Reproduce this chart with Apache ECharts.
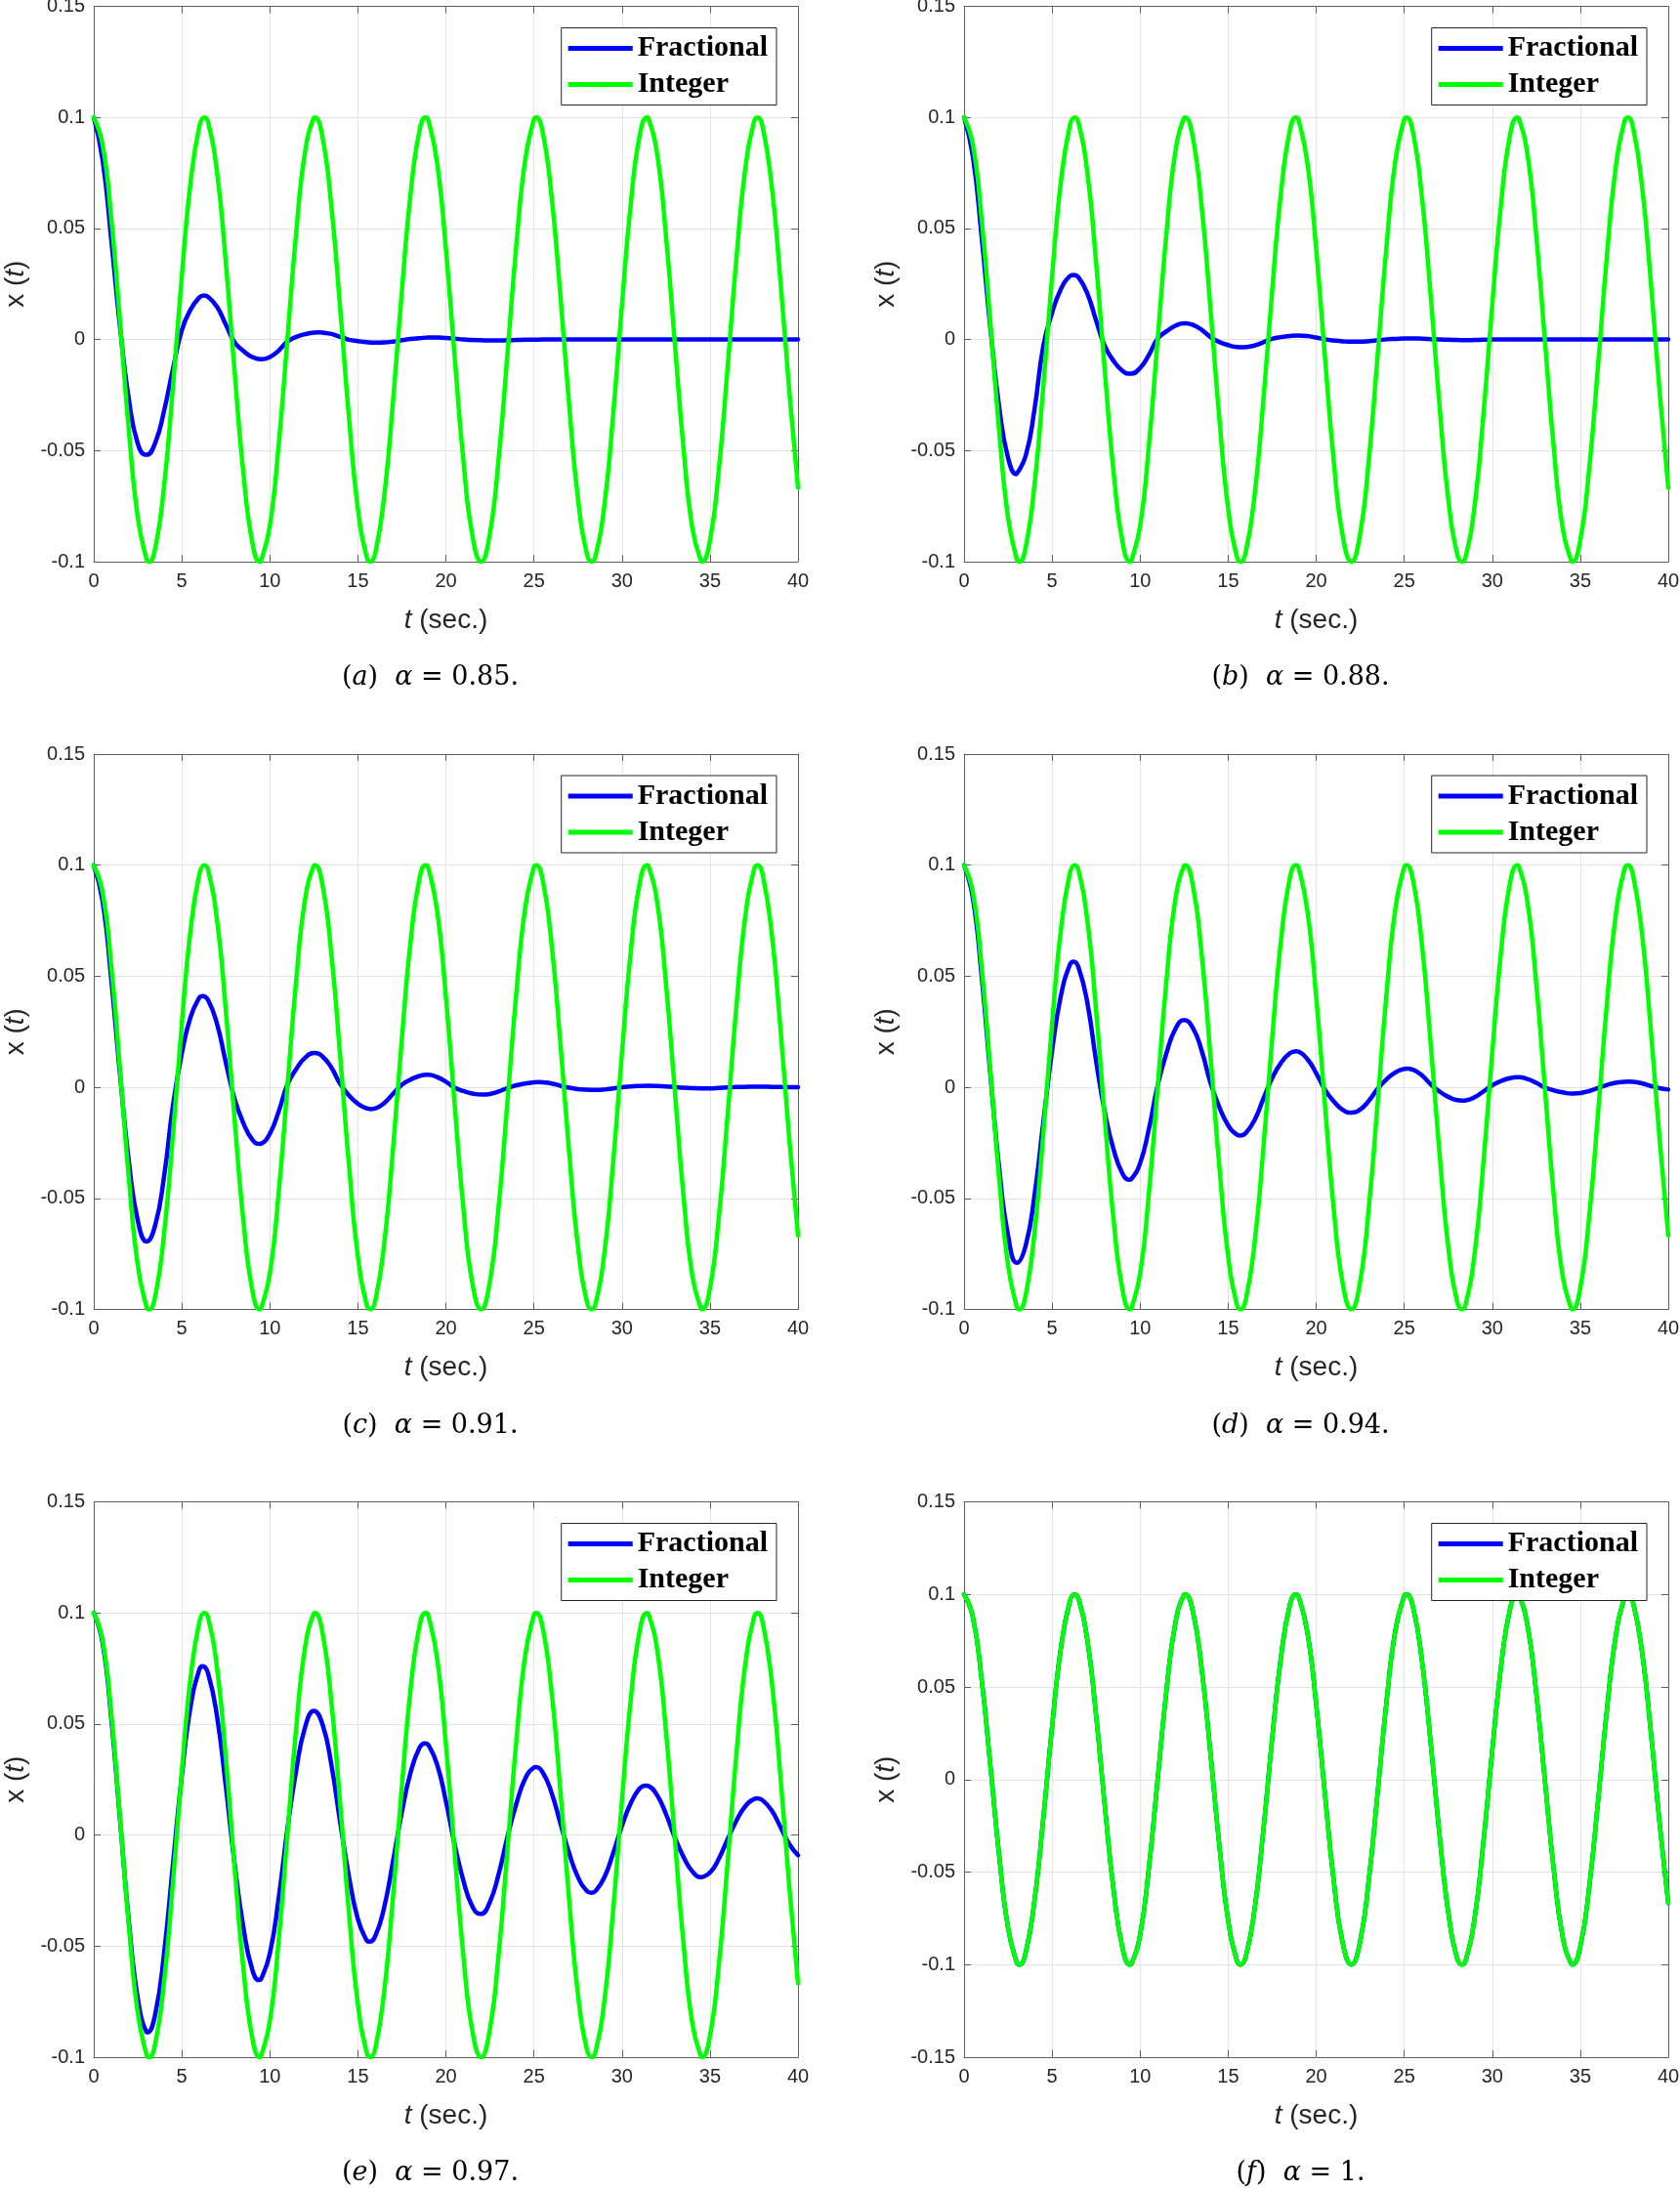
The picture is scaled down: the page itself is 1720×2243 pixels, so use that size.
<!DOCTYPE html>
<html>
<head>
<meta charset="utf-8">
<script src="https://cdn.jsdelivr.net/npm/echarts/dist/echarts.min.js"></script>
<style>
html,body{margin:0;padding:0;background:#ffffff;}
#chart{width:1720px;height:2243px;}
</style>
</head>
<body>
<div id="chart"></div>
<script>
// ---------------- data ----------------
const tSec = [0,0.5,1,1.5,2,2.5,3,3.5,4,4.5,5,5.5,6,6.5,7,7.5,8,8.5,9,9.5,
  10,10.5,11,11.5,12,12.5,13,13.5,14,14.5,15,15.5,16,16.5,17,17.5,18,18.5,19,19.5,
  20,20.5,21,21.5,22,22.5,23,23.5,24,24.5,25,25.5,26,26.5,27,27.5,28,28.5,29,29.5,
  30,30.5,31,31.5,32,32.5,33,33.5,34,34.5,35,35.5,36,36.5,37,37.5,38,38.5,39,39.5,40];

const integerX = [0.1000,0.0878,0.0540,0.0071,-0.0416,-0.0801,-0.0990,-0.0936,-0.0654,-0.0211,
  0.0284,0.0709,0.0960,0.0977,0.0754,0.0347,-0.0146,-0.0602,-0.0911,-0.0997,
  -0.0839,-0.0476,0.0004,0.0483,0.0844,0.0998,0.0907,0.0595,0.0137,-0.0355,
  -0.0760,-0.0979,-0.0958,-0.0702,-0.0275,0.0219,0.0660,0.0940,0.0989,0.0796,
  0.0408,-0.0080,-0.0548,-0.0880,-0.1000,-0.0873,-0.0533,-0.0062,0.0424,0.0806,
  0.0991,0.0933,0.0647,0.0202,-0.0292,-0.0715,-0.0963,-0.0975,-0.0748,-0.0338,
  0.0154,0.0609,0.0915,0.0997,0.0834,0.0468,-0.0013,-0.0491,-0.0849,-0.0998,
  -0.0904,-0.0588,-0.0128,0.0363,0.0765,0.0980,0.0955,0.0696,0.0267,-0.0228,
  -0.0667];
// turning points of the integer-order curve [t, x]
const integerPeaks = [[3.1416,-0.1],[6.2832,0.1],[9.4248,-0.1],[12.5664,0.1],[15.7080,-0.1],[18.8496,0.1],
  [21.9911,-0.1],[25.1327,0.1],[28.2743,-0.1],[31.4159,0.1],[34.5575,-0.1],[37.6991,0.1]];

const fracA = [0.1000,0.0810,0.0445,0.0050,-0.0273,-0.0469,-0.0519,-0.0463,-0.0318,-0.0131,
  0.0042,0.0135,0.0190,0.0192,0.0148,0.0067,-0.0013,-0.0051,-0.0079,-0.0089,
  -0.0079,-0.0050,-0.0009,0.0012,0.0024,0.0031,0.0031,0.0025,0.0012,-0.0001,
  -0.0007,-0.0012,-0.0014,-0.0013,-0.0009,-0.0003,0.0003,0.0006,0.0009,0.0009,
  0.0007,0.0004,0.0000,-0.0002,-0.0003,-0.0004,-0.0004,-0.0003,-0.0002,-0.0001,
  -0.0001,0.0000,0.0000,0.0000,0.0000,0.0000,0.0000,0.0000,0.0000,0.0000,
  0.0000,0.0000,0.0000,0.0000,0.0000,0.0000,0.0000,0.0000,0.0000,0.0000,
  0.0000,0.0000,0.0000,0.0000,0.0000,0.0000,0.0000,0.0000,0.0000,0.0000,
  0.0000];
const fracAPeaks = [[2.95,-0.0519],[6.26,0.0198],[9.51,-0.0089],[12.8,0.0032],[16.1,-0.0014],[19.3,0.0009]];

const fracB = [0.1000,0.0825,0.0462,0.0049,-0.0306,-0.0533,-0.0606,-0.0524,-0.0315,-0.0030,
  0.0120,0.0227,0.0285,0.0280,0.0208,0.0086,-0.0030,-0.0097,-0.0141,-0.0154,
  -0.0128,-0.0069,0.0004,0.0037,0.0062,0.0073,0.0066,0.0044,0.0011,-0.0011,
  -0.0025,-0.0034,-0.0034,-0.0027,-0.0012,0.0003,0.0011,0.0016,0.0018,0.0016,
  0.0009,0.0001,-0.0004,-0.0008,-0.0010,-0.0010,-0.0007,-0.0003,0.0001,0.0003,
  0.0005,0.0005,0.0004,0.0002,0.0000,-0.0001,-0.0002,-0.0003,-0.0002,-0.0001,
  0.0000,0.0000,0.0000,0.0000,0.0000,0.0000,0.0000,0.0000,0.0000,0.0000,
  0.0000,0.0000,0.0000,0.0000,0.0000,0.0000,0.0000,0.0000,0.0000,0.0000,
  0.0000];
const fracBPeaks = [[2.97,-0.0606],[6.22,0.0291],[9.42,-0.0154],[12.57,0.0073],[15.8,-0.0035],[18.97,0.0018]];

const fracC = [0.1000,0.0839,0.0481,0.0050,-0.0338,-0.0600,-0.0694,-0.0618,-0.0397,-0.0081,
  0.0152,0.0317,0.0404,0.0392,0.0286,0.0112,-0.0053,-0.0162,-0.0235,-0.0254,
  -0.0209,-0.0109,0.0012,0.0082,0.0133,0.0154,0.0138,0.0088,0.0015,-0.0037,
  -0.0074,-0.0095,-0.0095,-0.0071,-0.0029,0.0011,0.0035,0.0051,0.0056,0.0046,
  0.0025,-0.0002,-0.0017,-0.0028,-0.0033,-0.0030,-0.0019,-0.0003,0.0009,0.0017,
  0.0022,0.0022,0.0017,0.0007,-0.0002,-0.0008,-0.0011,-0.0012,-0.0010,-0.0005,
  0.0000,0.0004,0.0006,0.0007,0.0006,0.0004,0.0001,-0.0002,-0.0004,-0.0005,
  -0.0005,-0.0003,-0.0001,0.0001,0.0002,0.0003,0.0003,0.0002,0.0001,0.0000,
  0.0000];
const fracCPeaks = [[3.02,-0.0694],[6.19,0.0411],[9.42,-0.0255],[12.54,0.0154],[15.74,-0.0098],[18.92,0.0056],
  [22.06,-0.0033],[25.24,0.0023]];

const fracD = [0.1000,0.0853,0.0500,0.0054,-0.0367,-0.0667,-0.0790,-0.0713,-0.0488,-0.0159,
  0.0164,0.0412,0.0550,0.0540,0.0382,0.0119,-0.0114,-0.0282,-0.0389,-0.0413,
  -0.0342,-0.0187,0.0009,0.0155,0.0262,0.0303,0.0267,0.0164,0.0019,-0.0089,
  -0.0171,-0.0213,-0.0206,-0.0148,-0.0052,0.0041,0.0110,0.0153,0.0160,0.0127,
  0.0064,-0.0011,-0.0063,-0.0101,-0.0114,-0.0100,-0.0060,-0.0006,0.0036,0.0067,
  0.0083,0.0079,0.0054,0.0014,-0.0019,-0.0043,-0.0058,-0.0059,-0.0045,-0.0019,
  0.0009,0.0028,0.0041,0.0045,0.0037,0.0020,-0.0001,-0.0014,-0.0023,-0.0028,
  -0.0026,-0.0017,-0.0003,0.0010,0.0020,0.0025,0.0025,0.0018,0.0006,-0.0004,
  -0.0010];
const fracDPeaks = [[3.02,-0.079],[6.22,0.0565],[9.39,-0.0416],[12.52,0.0303],[15.69,-0.0217],[18.84,0.0162],
  [22.0,-0.0114],[25.16,0.0084],[28.3,-0.006],[31.43,0.0045],[34.63,-0.0028],[37.75,0.0026]];

const fracE = [0.1000,0.0866,0.0520,0.0061,-0.0394,-0.0735,-0.0887,-0.0803,-0.0527,-0.0130,
  0.0266,0.0579,0.0746,0.0726,0.0535,0.0220,-0.0129,-0.0417,-0.0605,-0.0649,
  -0.0534,-0.0286,0.0028,0.0292,0.0485,0.0559,0.0496,0.0314,0.0055,-0.0189,
  -0.0378,-0.0474,-0.0453,-0.0324,-0.0117,0.0103,0.0283,0.0393,0.0406,0.0318,
  0.0153,-0.0043,-0.0207,-0.0321,-0.0355,-0.0301,-0.0175,-0.0007,0.0140,0.0253,
  0.0304,0.0282,0.0191,0.0054,-0.0081,-0.0189,-0.0251,-0.0252,-0.0191,-0.0082,
  0.0041,0.0143,0.0209,0.0221,0.0179,0.0095,-0.0010,-0.0099,-0.0164,-0.0190,
  -0.0169,-0.0107,-0.0019,0.0064,0.0129,0.0162,0.0156,0.0111,0.0037,-0.0040,
  -0.0091];
const fracEPeaks = [[3.05,-0.0888],[6.19,0.076],[9.39,-0.0653],[12.52,0.0559],[15.66,-0.048],[18.81,0.0413],
  [21.94,-0.0355],[25.1,0.0306],[28.26,-0.026],[31.35,0.0223],[34.53,-0.019],[37.68,0.0165]];

// alpha = 1: the fractional curve coincides with the integer-order one (drawn underneath)
const fracF = integerX;
const fracFPeaks = integerPeaks;

const panelLetters = ['a','b','c','d','e','f'];
const panelAlphas  = ['0.85','0.88','0.91','0.94','0.97','1'];
const panelFrac    = [fracA, fracB, fracC, fracD, fracE, fracF];
const panelFracPeaks = [fracAPeaks, fracBPeaks, fracCPeaks, fracDPeaks, fracEPeaks, fracFPeaks];
const panelYMin    = [-0.1, -0.1, -0.1, -0.1, -0.1, -0.15];
const yMax = 0.15, yStep = 0.05;
const xMin = 0, xMax = 40, xStep = 5;
const seriesNames = ['Fractional', 'Integer'];
const yTickLabels = {'-0.15':'-0.15','-0.1':'-0.1','-0.05':'-0.05','0':'0','0.05':'0.05','0.1':'0.1','0.15':'0.15'};

// ---------------- layout / style ----------------
const W = 1720;
const colLeft = [96, 987];
const rowTop = [6.5, 772, 1537.5];
const plotW = 721, plotH = 568.5;
const captionY = [694, 1459.5, 2225];
const axisColor = '#5f5f5f';
const textColor = '#262626';
const gridColor = '#e4e4e4';
const blue = '#0000ff', green = '#00ff00';
const sansFont = 'Liberation Sans';

// sampled points plus the read turning points, in time order
function mergePoints(vals, peaks){
  const pts = tSec.map((t,i)=>[t, vals[i]]);
  peaks.forEach(p => { if (!pts.some(q => Math.abs(q[0]-p[0]) < 0.025)) pts.push([p[0], p[1]]); });
  pts.sort((a,b)=>a[0]-b[0]);
  return pts;
}
function yLabel(v){
  let r = Math.round(v*100)/100;
  if (Object.is(r,-0)) r = 0;
  const k = String(r);
  return yTickLabels[k] !== undefined ? yTickLabels[k] : k;
}

const grids=[], xAxes=[], yAxes=[], series=[], legends=[], graphics=[];
const integerPoints = mergePoints(integerX, integerPeaks);

for (let i=0;i<6;i++){
  const r = Math.floor(i/2), c = i%2;
  const left = colLeft[c], top = rowTop[r];
  grids.push({left:left, top:top, width:plotW, height:plotH, containLabel:false, outerBoundsMode:'none'});

  const baseX = {gridIndex:i, type:'value', min:xMin, max:xMax, interval:xStep};
  xAxes.push(Object.assign({}, baseX, {
    position:'bottom',
    axisLine:{show:true, onZero:false, lineStyle:{color:axisColor, width:1}},
    axisTick:{show:true, inside:true, length:7, lineStyle:{color:axisColor, width:1}},
    axisLabel:{show:true, margin:10, fontSize:20, fontFamily:sansFont, color:textColor, showMinLabel:true, showMaxLabel:true},
    splitLine:{show:true, lineStyle:{color:gridColor, width:1}},
    name:'{it|t} (sec.)', nameLocation:'middle', nameGap:46,
    nameTextStyle:{fontSize:28, fontFamily:sansFont, color:textColor,
      rich:{it:{fontStyle:'italic', fontSize:28, fontFamily:sansFont, color:textColor}}}
  }));
  xAxes.push(Object.assign({}, baseX, {
    position:'top',
    axisLine:{show:true, onZero:false, lineStyle:{color:axisColor, width:1}},
    axisTick:{show:true, inside:true, length:7, lineStyle:{color:axisColor, width:1}},
    axisLabel:{show:false}, splitLine:{show:false}
  }));

  const baseY = {gridIndex:i, type:'value', min:panelYMin[i], max:yMax, interval:yStep};
  yAxes.push(Object.assign({}, baseY, {
    position:'left',
    axisLine:{show:true, onZero:false, lineStyle:{color:axisColor, width:1}},
    axisTick:{show:true, inside:true, length:7, lineStyle:{color:axisColor, width:1}},
    axisLabel:{show:true, margin:9, fontSize:20, fontFamily:sansFont, color:textColor, formatter:yLabel, showMinLabel:true, showMaxLabel:true},
    splitLine:{show:true, lineStyle:{color:gridColor, width:1}},
    name:'x ({it|t})', nameLocation:'middle', nameGap:66,
    nameTextStyle:{fontSize:28, fontFamily:sansFont, color:textColor,
      rich:{it:{fontStyle:'italic', fontSize:28, fontFamily:sansFont, color:textColor}}}
  }));
  yAxes.push(Object.assign({}, baseY, {
    position:'right',
    axisLine:{show:true, onZero:false, lineStyle:{color:axisColor, width:1}},
    axisTick:{show:true, inside:true, length:7, lineStyle:{color:axisColor, width:1}},
    axisLabel:{show:false}, splitLine:{show:false}
  }));

  series.push({
    type:'line', name:seriesNames[0], xAxisIndex:2*i, yAxisIndex:2*i,
    data:mergePoints(panelFrac[i], panelFracPeaks[i]), symbol:'none', smooth:0.5, clip:true,
    lineStyle:{color:blue, width:4.5, join:'round', cap:'round'}, itemStyle:{color:blue}, z:2
  });
  series.push({
    type:'line', name:seriesNames[1], xAxisIndex:2*i, yAxisIndex:2*i,
    data:integerPoints, symbol:'none', smooth:0.5, clip:true,
    lineStyle:{color:green, width:4.5, join:'round', cap:'round'}, itemStyle:{color:green}, z:3
  });

  const legendRight = W - (left + plotW - 22);
  legends.push({
    show:true, orient:'vertical', right:legendRight, top:top+22,
    data:seriesNames.slice(), icon:'rect', itemWidth:66, itemHeight:5, itemGap:7,
    padding:[6,9,6,7], borderColor:'#262626', borderWidth:1, backgroundColor:'#ffffff',
    selectedMode:false,
    textStyle:{fontFamily:'Liberation Serif', fontWeight:'bold', fontSize:30, color:'#000000'}
  });

  graphics.push({
    type:'text', x:left + plotW/2 - 16, y:captionY[r], z:10,
    style:{
      text:'(' + '{it|' + panelLetters[i] + '}' + ')  ' + '{it|α}' + ' = ' + panelAlphas[i] + '.',
      fill:'#000000', fontSize:27, fontFamily:'DejaVu Serif',
      align:'center', verticalAlign:'middle',
      rich:{it:{fontStyle:'italic', fontSize:27, fontFamily:'DejaVu Serif', fill:'#000000'}}
    }
  });
}

const chart = echarts.init(document.getElementById('chart'), null, {renderer:'canvas', width:1720, height:2243});
chart.setOption({
  backgroundColor:'#ffffff',
  animation:false,
  grid:grids, xAxis:xAxes, yAxis:yAxes, series:series, legend:legends, graphic:graphics
});
</script>
</body>
</html>
